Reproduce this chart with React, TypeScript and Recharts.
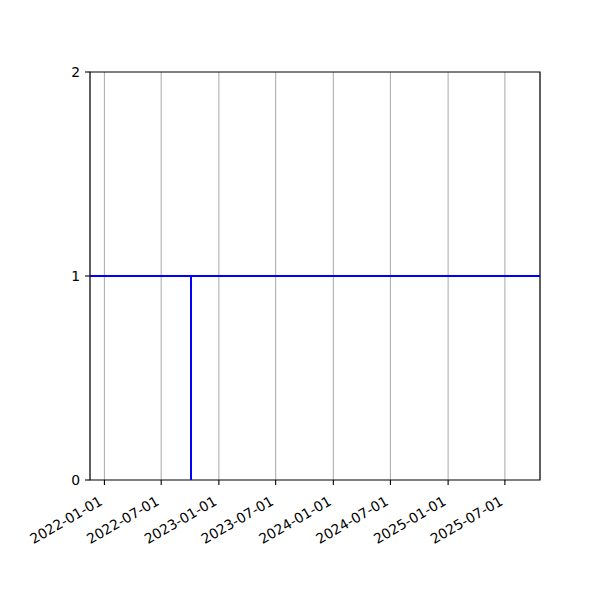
import React from "react";
import { LineChart, Line, XAxis, YAxis, CartesianGrid, ReferenceArea } from "recharts";

const day = (y: number, m: number, d: number) => Date.UTC(y, m - 1, d);

// x range of the plot (dates)
const xStart = day(2021, 11, 16);
const xEnd = day(2025, 10, 21);

const tickDates = [
  day(2022, 1, 1),
  day(2022, 7, 1),
  day(2023, 1, 1),
  day(2023, 7, 1),
  day(2024, 1, 1),
  day(2024, 7, 1),
  day(2025, 1, 1),
  day(2025, 7, 1),
];
const yTicks = [0, 1, 2];

// level line across the whole range
const levelSeries = [
  { x: xStart, y: 1 },
  { x: xEnd, y: 1 },
];
// vertical step at the event date
const eventDate = day(2022, 10, 4);
const stepSeries = [
  { x: eventDate, y: 0 },
  { x: eventDate, y: 1 },
];

const fmt = (t: number) => new Date(t).toISOString().slice(0, 10);

const font = "DejaVu Sans, sans-serif";
const fontSize = 13.9;

function DateTick(props: any) {
  const { x, y, payload } = props;
  return (
    <g transform={`translate(${x - 1},${y + 17})`}>
      <text
        x={0}
        y={0}
        textAnchor="end"
        transform="rotate(-30)"
        fontSize={fontSize}
        fontFamily={font}
        fill="#000"
      >
        {fmt(payload.value)}
      </text>
    </g>
  );
}

export default function App() {
  return (
    <div style={{ position: "absolute", left: 0, top: 0, width: 600, height: 600, background: "#fff" }}>
      <LineChart width={600} height={600} margin={{ top: 72, right: 60, bottom: 40, left: 40 }}>
        <CartesianGrid
          xAxisId="b"
          yAxisId="l"
          horizontal={false}
          stroke="#b0b0b0"
          strokeWidth={1.1}
        />
        <XAxis
          xAxisId="b"
          dataKey="x"
          type="number"
          domain={[xStart, xEnd]}
          ticks={tickDates}
          interval={0}
          tick={<DateTick />}
          tickSize={5}
          height={80}
          tickLine={{ stroke: "#000", strokeWidth: 1.1 }}
          axisLine={false}
          allowDataOverflow
        />
        <YAxis
          yAxisId="l"
          type="number"
          domain={[0, 2]}
          ticks={yTicks}
          interval={0}
          width={50}
          tickSize={5}
          tickMargin={5}
          tick={{ fontSize, fontFamily: font, fill: "#000" }}
          tickLine={{ stroke: "#000", strokeWidth: 1.1 }}
          axisLine={false}
          allowDataOverflow
        />
        <Line
          xAxisId="b"
          yAxisId="l"
          data={levelSeries}
          dataKey="y"
          type="linear"
          stroke="#0000ff"
          strokeWidth={2}
          dot={false}
          isAnimationActive={false}
        />
        <Line
          xAxisId="b"
          yAxisId="l"
          data={stepSeries}
          dataKey="y"
          type="linear"
          stroke="#0000ff"
          strokeWidth={2}
          dot={false}
          isAnimationActive={false}
        />
        <ReferenceArea
          xAxisId="b"
          yAxisId="l"
          x1={xStart}
          x2={xEnd}
          y1={0}
          y2={2}
          fill="none"
          fillOpacity={0}
          stroke="#000"
          strokeWidth={1.1}
          strokeOpacity={1}
        />
      </LineChart>
    </div>
  );
}
